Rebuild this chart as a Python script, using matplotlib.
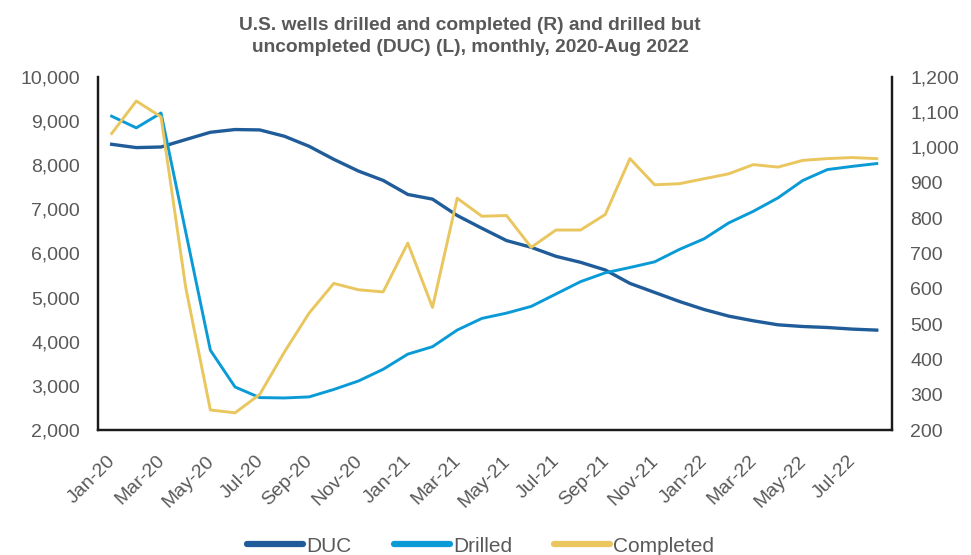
import matplotlib.pyplot as plt
import matplotlib.transforms as mtransforms
import numpy as np

plt.rcParams['font.family'] = ['Liberation Sans', 'DejaVu Sans']

# monthly, Jan-2020 .. Aug-2022
months = ["Jan-20", "Feb-20", "Mar-20", "Apr-20", "May-20", "Jun-20", "Jul-20", "Aug-20",
          "Sep-20", "Oct-20", "Nov-20", "Dec-20", "Jan-21", "Feb-21", "Mar-21", "Apr-21",
          "May-21", "Jun-21", "Jul-21", "Aug-21", "Sep-21", "Oct-21", "Nov-21", "Dec-21",
          "Jan-22", "Feb-22", "Mar-22", "Apr-22", "May-22", "Jun-22", "Jul-22", "Aug-22"]

# DUC wells (left axis)
duc = [8468, 8393, 8407, 8575, 8740, 8802, 8793, 8650, 8423, 8128, 7862, 7651,
       7333, 7227, 6857, 6568, 6289, 6137, 5933, 5797, 5624, 5320, 5116, 4912,
       4730, 4580, 4474, 4383, 4345, 4322, 4286, 4263]

# drilled and completed wells (right axis)
drilled = [1088, 1055, 1097, 761, 426, 322, 292, 291, 294, 315, 339, 372,
           415, 436, 483, 516, 531, 550, 585, 620, 645, 660, 676, 711,
           741, 786, 819, 857, 906, 937, 946, 954]
completed = [1039, 1131, 1086, 604, 257, 249, 301, 421, 531, 615, 597, 591,
             729, 547, 856, 805, 807, 717, 766, 766, 810, 968, 894, 897,
             911, 925, 951, 944, 963, 968, 971, 968]

c_duc = "#1F5C99"
c_drl = "#0A9BD7"
c_cmp = "#E9C65E"
grey = "#595959"

fig = plt.figure(figsize=(9.71, 5.55), dpi=100)
ax = fig.add_axes([0.101, 0.225, 0.8177, 0.637])
ax2 = ax.twinx()

x = np.arange(len(months))
l1, = ax.plot(x, duc, color=c_duc, lw=2.4, label="DUC")
l2, = ax2.plot(x, drilled, color=c_drl, lw=2.1, label="Drilled")
l3, = ax2.plot(x, completed, color=c_cmp, lw=2.1, label="Completed")

ax.set_xlim(-0.55, 31.62)
ax.set_ylim(2000, 10000)
ax2.set_ylim(200, 1200)
ax.set_yticks(np.arange(2000, 10001, 1000))
ax2.set_yticks(np.arange(200, 1201, 100))
ax.yaxis.set_major_formatter(plt.FuncFormatter(lambda v, p: f"{int(v):,}"))
ax2.yaxis.set_major_formatter(plt.FuncFormatter(lambda v, p: f"{int(v):,}"))

ax.set_xticks(x[::2])
ax.set_xticklabels(months[::2], rotation=45, ha="right", rotation_mode="anchor")

for a in (ax, ax2):
    a.tick_params(length=0, labelsize=14, labelcolor=grey, pad=13)
    a.spines["top"].set_visible(False)
    for s in ("left", "right", "bottom"):
        a.spines[s].set_linewidth(1.6)
        a.spines[s].set_color("#1a1a1a")
ax.tick_params(axis="x", pad=16)

# nudge the slanted month labels a little to the left
shift = mtransforms.ScaledTranslation(-0.05, 0, fig.dpi_scale_trans)
for lab in ax.get_xticklabels():
    lab.set_transform(lab.get_transform() + shift)

fig.suptitle("U.S. wells drilled and completed (R) and drilled but\n"
             "uncompleted (DUC) (L), monthly, 2020-Aug 2022",
             x=0.484, y=0.969, fontsize=13.8, fontweight="bold", color=grey,
             linespacing=1.35)

leg = fig.legend(handles=[l1, l2, l3], loc="center", ncol=3,
                 bbox_to_anchor=(0.495, 1 - 546 / 555), frameon=False, fontsize=15,
                 handlelength=2.7, handletextpad=0.15, columnspacing=2.0,
                 borderpad=0)
for t in leg.get_texts():
    t.set_color(grey)
for h in leg.legend_handles:
    h.set_linewidth(4.5)
    h.set_solid_capstyle("round")

fig.savefig("out.png", dpi=100)
